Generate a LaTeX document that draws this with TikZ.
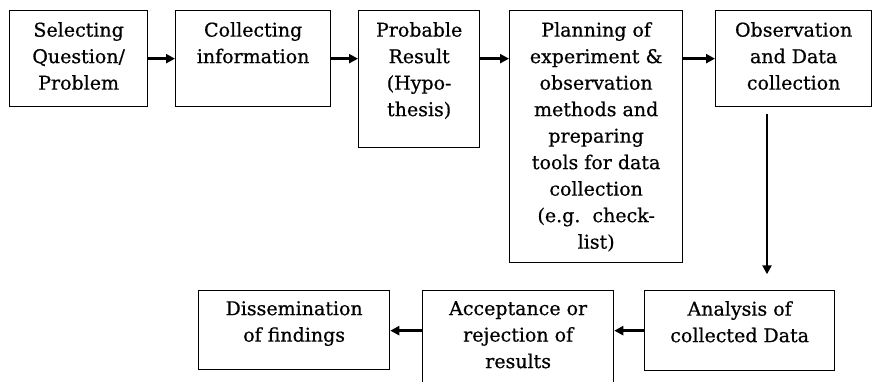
\documentclass[tikz,border=0pt]{standalone}
\usepackage{fontspec}
\setmainfont{DejaVu Serif}
\newfontfamily\stagefont[FakeBold=0.6]{DejaVu Serif}
\usetikzlibrary{arrows.meta}

\begin{document}
\begin{tikzpicture}[x=1pt, y=-1pt,
    stage/.style={draw, line width=1.3pt, anchor=north west, minimum height=96pt, inner sep=0pt},
    caption/.style={anchor=north, align=center, yshift=-12pt, inner sep=0pt,
                    font=\stagefont\fontsize{19}{26.5}\selectfont},
    flow/.style={-{Triangle[length=9pt,width=9pt]}, line width=2.8pt}]
    \useasboundingbox (0,0) rectangle (872,382);
    % top row
    \node[stage, minimum width=138pt, label={[caption]north:Selecting\\Question/\\Problem}] (sel) at (9,10) {};
    \node[stage, minimum width=155pt, label={[caption]north:Collecting\\information}] (col) at (175,10) {};
    \node[stage, minimum width=121pt, minimum height=137pt,
          label={[caption]north:Probable\\Result\\(Hypo-\\thesis)}] (hyp) at (358,10) {};
    \node[stage, minimum width=173pt, minimum height=252pt,
          label={[caption]north:Planning of\\experiment \&\\observation\\methods and\\preparing\\tools for data\\collection\\(e.g.\ \ check-\\list)}] (plan) at (509,10) {};
    \node[stage, minimum width=156pt, label={[caption]north:Observation\\and Data\\collection}] (obs) at (715,10) {};
    % bottom row
    \node[stage, minimum width=190pt, minimum height=80pt,
          label={[caption, yshift=1pt]north:Analysis of\\collected Data}] (ana) at (644,290) {};
    \node[stage, minimum width=191pt, minimum height=120pt,
          label={[caption, yshift=1pt]north:Acceptance or\\rejection of\\results}] (acc) at (422,290) {};
    \node[stage, minimum width=191pt, minimum height=79pt,
          label={[caption, yshift=1pt]north:Dissemination\\of findings}] (dis) at (198,290) {};

    \draw[flow] (sel.east) -- (col.west);
    \draw[flow] (col.east) -- (hyp.west |- col.east);
    \draw[flow] (hyp.east |- col.east) -- (plan.west |- col.east);
    \draw[flow] (plan.east |- obs.west) -- (obs.west);
    \draw[flow] ([xshift=52pt, yshift=-7pt]obs.south west) -- ++(0,160);
    \draw[flow] (ana.west) -- (acc.east |- ana.west);
    \draw[flow] (acc.west |- ana.west) -- (dis.east |- ana.west);
\end{tikzpicture}
\end{document}
